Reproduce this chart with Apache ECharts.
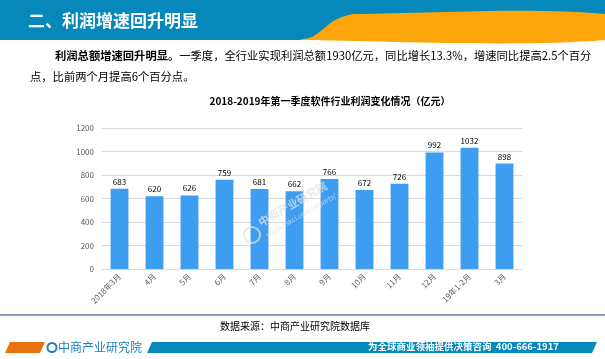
<!DOCTYPE html>
<html><head><meta charset="utf-8">
<script src="https://cdn.jsdelivr.net/npm/echarts@6/dist/echarts.min.js"></script>
<style>html,body{margin:0;padding:0;background:#fff;}#c{width:605px;height:359px;}</style>
</head><body><div id="c"></div>
<script>
var categories = ['2018年3月','4月','5月','6月','7月','8月','9月','10月','11月','12月','19年1-2月','3月'];
var profits = [683, 620, 626, 759, 681, 662, 766, 672, 726, 992, 1032, 898];
var yTicks = [0, 200, 400, 600, 800, 1000, 1200];

var chart = echarts.init(document.getElementById('c'), null, {renderer:'canvas'});
var F = '"Noto Sans CJK SC", "Noto Sans", sans-serif';
chart.setOption({
  animation: false,
  backgroundColor: '#fff',
  title: {
    text: '2018-2019年第一季度软件行业利润变化情况（亿元）',
    left: 325, top: 91, textAlign: 'center',
    textStyle: {fontSize: 10, fontWeight: 'bold', color: '#000', fontFamily: F}
  },
  grid: {left: 102, right: 83, top: 128, bottom: 90, containLabel: false},
  xAxis: {
    type: 'category', data: categories,
    axisLine: {lineStyle: {color: '#d9d9d9'}},
    axisTick: {show: false},
    axisLabel: {rotate: 45, fontSize: 8, color: '#595959', fontFamily: F, margin: 6, interval: 0}
  },
  yAxis: {
    type: 'value', min: yTicks[0], max: yTicks[yTicks.length-1], interval: 200,
    axisLine: {show: false}, axisTick: {show: false},
    splitLine: {lineStyle: {color: '#d9d9d9'}},
    axisLabel: {fontSize: 8, color: '#595959', fontFamily: F, margin: 8, formatter: function(v){return String(v);}}
  },
  series: [{
    type: 'bar', data: profits, barWidth: '51%',
    itemStyle: {color: '#3d9df1'},
    label: {show: true, position: 'top', fontSize: 8, color: '#000', fontFamily: F, distance: 3}
  }],
  graphic: [
    {type: 'rect', shape: {x: 0, y: 0, width: 605, height: 40}, style: {fill: '#0788ba'}, silent: true},
    {type: 'polygon', shape: {points: [[300,40],[312,37],[322,30],[332,22],[342,17],[355,14],[605,14],[605,40]], smooth: 0.3}, style: {fill: '#fca60c'}, silent: true},
    {type: 'text', left: 28, top: 12, style: {text: '二、利润增速回升明显', fill: '#fff', font: 'bold 17px ' + F}},
    {type: 'text', left: 55, top: 50, style: {text: '{b|利润总额增速回升明显。}一季度，全行业实现利润总额1930亿元，同比增长13.3%，增速同比提高2.5个百分',
      font: '11.3px ' + F, fill: '#000', rich: {b: {fontWeight: 'bold', fontSize: 11.3, fontFamily: F}}}},
    {type: 'text', left: 30, top: 71, style: {text: '点，比前两个月提高6个百分点。', font: '11.3px ' + F, fill: '#000'}},
    {type: 'circle', z: 100, shape: {cx: 252, cy: 235, r: 8}, style: {fill: 'none', stroke: 'rgba(225,225,225,0.75)', lineWidth: 2}, silent: true},
    {type: 'text', z: 100, x: 262, y: 228, rotation: Math.PI/6, style: {text: '中商产业研究院', font: 'bold 11px ' + F, fill: 'rgba(225,225,225,0.75)', verticalAlign: 'bottom'}, silent: true},
    {type: 'text', z: 100, x: 268, y: 238, rotation: Math.PI/6, style: {text: 'www.askci.com/reports/', font: '7px ' + F, fill: 'rgba(225,225,225,0.75)', verticalAlign: 'bottom'}, silent: true},
    {type: 'line', shape: {x1: 0, y1: 315, x2: 605, y2: 315}, style: {stroke: '#5e80a8', lineWidth: 1.5}},
    {type: 'text', left: 220, top: 321, style: {text: '数据来源：中商产业研究院数据库', font: '10px ' + F, fill: '#000'}},
    {type: 'polygon', shape: {points: [[5,353],[40,353],[45,342],[10,342]]}, style: {fill: '#e8730f'}},
    {type: 'text', left: 58, top: 341, style: {text: '中商产业研究院', font: '12px ' + F, fill: '#1f7fc0'}},
    {type: 'circle', shape: {cx: 52, cy: 347.5, r: 4.5}, style: {fill: 'none', stroke: '#1f7fc0', lineWidth: 2}},
    {type: 'polygon', shape: {points: [[147,353],[592,353],[597,342],[152,342]]}, style: {fill: '#0788ba'}},
    {type: 'text', left: 368, top: 342, style: {text: '为全球商业领袖提供决策咨询  400-666-1917', font: 'bold 9.5px ' + F, fill: '#fff'}}
  ]
});
</script></body></html>
